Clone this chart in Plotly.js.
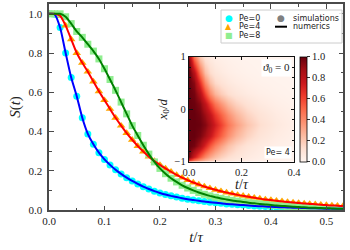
<!DOCTYPE html>
<html><head><meta charset="utf-8">
<script src="https://cdn.plot.ly/plotly-3.0.1.min.js"></script>
<style>html,body{margin:0;padding:0;background:#fff}#chart{width:350px;height:250px}</style>
</head><body><div id="chart"></div>
<script>
// time axis t/tau
const t = [0, 0.01, 0.02, 0.03, 0.04, 0.05, 0.06, 0.07, 0.08, 0.09,
  0.10, 0.11, 0.12, 0.13, 0.14, 0.15, 0.16, 0.17, 0.18, 0.19,
  0.20, 0.21, 0.22, 0.23, 0.24, 0.25, 0.26, 0.27, 0.28, 0.29,
  0.30, 0.31, 0.32, 0.33, 0.34, 0.35, 0.36, 0.37, 0.38, 0.39,
  0.40, 0.41, 0.42, 0.43, 0.44, 0.45, 0.46, 0.47, 0.48, 0.49,
  0.50, 0.51, 0.52, 0.53];
// survival S(t)
const S_pe0 = [1.0, 0.998, 0.93, 0.80, 0.675, 0.58, 0.47, 0.388, 0.335, 0.292,
  0.258, 0.23, 0.205, 0.184, 0.165, 0.148, 0.133, 0.119, 0.107, 0.096,
  0.087, 0.079, 0.072, 0.066, 0.06, 0.055, 0.051, 0.047, 0.043, 0.040,
  0.037, 0.034, 0.031, 0.029, 0.027, 0.025, 0.023, 0.021, 0.019, 0.018,
  0.016, 0.015, 0.014, 0.013, 0.012, 0.011, 0.010, 0.009, 0.009, 0.008,
  0.007, 0.007, 0.006, 0.006];
const S_pe4 = [1.0, 1.0, 0.99, 0.94, 0.87, 0.80, 0.75, 0.705, 0.655, 0.605,
  0.56, 0.515, 0.47, 0.43, 0.392, 0.358, 0.326, 0.298, 0.272, 0.25,
  0.23, 0.212, 0.195, 0.179, 0.165, 0.152, 0.140, 0.130, 0.120, 0.111,
  0.103, 0.096, 0.089, 0.083, 0.077, 0.072, 0.067, 0.063, 0.058, 0.054,
  0.051, 0.047, 0.044, 0.041, 0.038, 0.036, 0.033, 0.031, 0.029, 0.027,
  0.025, 0.023, 0.022, 0.020];
const S_pe8 = [1.0, 1.0, 1.0, 0.985, 0.95, 0.91, 0.88, 0.845, 0.81, 0.77,
  0.72, 0.665, 0.61, 0.55, 0.49, 0.43, 0.38, 0.33, 0.285, 0.245,
  0.212, 0.185, 0.162, 0.143, 0.126, 0.112, 0.10, 0.089, 0.08, 0.072,
  0.065, 0.059, 0.054, 0.049, 0.045, 0.041, 0.037, 0.034, 0.031, 0.028,
  0.025, 0.023, 0.021, 0.019, 0.017, 0.015, 0.014, 0.012, 0.011, 0.010,
  0.009, 0.008, 0.007, 0.007];
const seriesNames = ['Pe=0', 'Pe=4', 'Pe=8'];

// inset: S(t) map for Pe=4, theta0=0
const heatT = [0, 0.02, 0.04, 0.06, 0.08, 0.10, 0.12, 0.15, 0.18, 0.22, 0.27, 0.33, 0.40];
const heatX0 = [-1, -0.9, -0.7, -0.5, -0.3, -0.1, 0.1, 0.3, 0.5, 0.7, 0.9, 1];
const heatS = [
  [0.5, 0.34, 0.25, 0.19, 0.15, 0.12, 0.095, 0.07, 0.052, 0.035, 0.022, 0.014, 0.008],
  [0.97, 0.75, 0.55, 0.41, 0.31, 0.24, 0.18, 0.13, 0.095, 0.064, 0.04, 0.025, 0.014],
  [1.0, 0.97, 0.86, 0.7, 0.55, 0.43, 0.33, 0.23, 0.16, 0.1, 0.062, 0.037, 0.02],
  [1.0, 1.0, 0.96, 0.88, 0.77, 0.64, 0.52, 0.38, 0.27, 0.17, 0.1, 0.057, 0.03],
  [1.0, 1.0, 0.99, 0.94, 0.85, 0.73, 0.61, 0.46, 0.34, 0.22, 0.13, 0.074, 0.037],
  [1.0, 1.0, 0.97, 0.89, 0.78, 0.64, 0.52, 0.38, 0.27, 0.17, 0.105, 0.06, 0.031],
  [1.0, 0.99, 0.93, 0.79, 0.62, 0.47, 0.36, 0.25, 0.17, 0.11, 0.066, 0.038, 0.021],
  [1.0, 0.97, 0.83, 0.6, 0.4, 0.27, 0.19, 0.13, 0.09, 0.06, 0.038, 0.023, 0.013],
  [1.0, 0.93, 0.66, 0.4, 0.24, 0.15, 0.11, 0.075, 0.053, 0.036, 0.023, 0.015, 0.009],
  [1.0, 0.82, 0.47, 0.24, 0.14, 0.09, 0.065, 0.045, 0.032, 0.021, 0.014, 0.009, 0.006],
  [0.96, 0.58, 0.28, 0.14, 0.085, 0.055, 0.042, 0.03, 0.021, 0.015, 0.01, 0.007, 0.005],
  [0.9, 0.46, 0.2, 0.1, 0.06, 0.04, 0.03, 0.02, 0.015, 0.01, 0.007, 0.005, 0.003]
];

const markerColors = ['#00ffff', '#ffa500', '#90ee90'];
const markerSymbols = ['circle', 'triangle-up', 'square'];
const markerSizes = [7, 7.5, 7];
const lineColors = ['#0000ff', '#ff0000', '#008000'];
const allS = [S_pe0, S_pe4, S_pe8];

const traces = [];
allS.forEach((s, i) => {
  traces.push({x: t, y: s, type: 'scatter', mode: 'markers', name: seriesNames[i] + ' simulations',
    marker: {color: markerColors[i], symbol: markerSymbols[i], size: markerSizes[i], line: {width: 0}},
    showlegend: false, hoverinfo: 'skip'});
});
allS.forEach((s, i) => {
  traces.push({x: t, y: s, type: 'scatter', mode: 'lines', name: seriesNames[i] + ' numerics',
    line: {color: lineColors[i], width: 2, shape: 'spline', smoothing: 0.6},
    showlegend: false, hoverinfo: 'skip'});
});

const reds = [[0, '#fff5f0'], [0.125, '#fee0d2'], [0.25, '#fcbba1'], [0.375, '#fc9272'],
  [0.5, '#fb6a4a'], [0.625, '#ef3b2c'], [0.75, '#cb181d'], [0.875, '#a50f15'], [1, '#67000d']];

const serif = "'Liberation Serif', 'Times New Roman', 'DejaVu Serif', serif";
const sans = "'DejaVu Sans', 'Liberation Sans', sans-serif";

traces.push({type: 'heatmap', x: heatT, y: heatX0, z: heatS, xaxis: 'x2', yaxis: 'y2',
  colorscale: reds, zmin: 0, zmax: 1, zsmooth: 'best', hoverinfo: 'skip',
  colorbar: {x: 0.854, xanchor: 'left', xpad: 0, y: 0.2345, yanchor: 'bottom', ypad: 0,
    len: 0.51, lenmode: 'fraction', thickness: 7, outlinewidth: 0.8, outlinecolor: '#000',
    tickvals: [0, 0.2, 0.4, 0.6, 0.8, 1.0], tickformat: '.1f', ticks: 'outside', ticklen: 3,
    tickcolor: '#333', tickfont: {family: serif, size: 10.5, color: '#222'}}});

const axCommon = {ticks: 'inside', mirror: 'allticks', showline: true, showgrid: false, zeroline: false,
  tickwidth: 1};

const P = (px) => (px - 49) / 294;
const Q = (py) => (210 - py) / 206;

const layout = {
  width: 350, height: 250,
  margin: {l: 49, r: 7, t: 4, b: 40},
  paper_bgcolor: '#fff', plot_bgcolor: '#fff',
  font: {family: serif},
  showlegend: false,
  xaxis: Object.assign({}, axCommon, {range: [0, 0.53], dtick: 0.1, tick0: 0, tickformat: '.1f',
    ticklen: 4.5, linecolor: '#4a4a4a', linewidth: 1.6, tickcolor: '#4a4a4a',
    minor: {dtick: 0.05, ticklen: 2.5, ticks: 'inside', tickcolor: '#4a4a4a'},
    tickfont: {family: serif, size: 11, color: '#222'},
    title: {text: '<i>t</i>/<i>τ</i>', font: {family: serif, size: 15, color: '#222'}, standoff: 6}}),
  yaxis: Object.assign({}, axCommon, {range: [0, 1.05], dtick: 0.2, tick0: 0, tickformat: '.1f',
    ticklen: 4.5, linecolor: '#4a4a4a', linewidth: 1.6, tickcolor: '#4a4a4a',
    minor: {dtick: 0.1, ticklen: 2.5, ticks: 'inside', tickcolor: '#4a4a4a'},
    tickfont: {family: serif, size: 11, color: '#222'}, ticklabelstandoff: 3,
    title: {text: '<i>S</i>(<i>t</i>)', font: {family: serif, size: 15, color: '#222'}, standoff: 4}}),
  xaxis2: Object.assign({}, axCommon, {domain: [P(189), P(294)], anchor: 'y2', range: [0, 0.4],
    dtick: 0.2, tick0: 0, tickformat: '.1f', ticklen: 3.5, linecolor: '#111', linewidth: 1.2,
    tickcolor: '#111', minor: {dtick: 0.1, ticklen: 2, ticks: 'inside', tickcolor: '#111'},
    tickfont: {family: serif, size: 10.5, color: '#222'},
    title: {text: '<i>t</i>/<i>τ</i>', font: {family: serif, size: 14, color: '#222'}, standoff: 0}}),
  yaxis2: Object.assign({}, axCommon, {domain: [Q(161.7), Q(56.7)], anchor: 'x2', range: [-1, 1],
    tickvals: [-1, 0, 1], ticklen: 3.5, linecolor: '#111', linewidth: 1.2, tickcolor: '#111',
    minor: {dtick: 0.2, tick0: 0, ticklen: 2, ticks: 'inside', tickcolor: '#111'},
    tickfont: {family: serif, size: 10.5, color: '#222'},
    title: {text: '<i>x</i><sub>0</sub>/<i>d</i>', font: {family: serif, size: 13, color: '#222'}, standoff: 4}}),
  shapes: [
    {type: 'rect', xref: 'paper', yref: 'paper', x0: P(221), x1: P(342), y0: Q(43), y1: Q(10),
      line: {color: '#cccccc', width: 1}, fillcolor: 'rgba(255,255,255,0.85)', layer: 'above'},
    {type: 'line', xref: 'paper', yref: 'paper', x0: P(275), x1: P(287), y0: Q(26.7), y1: Q(26.7),
      line: {color: '#000', width: 2}, layer: 'above'}
  ],
  annotations: [
    {xref: 'paper', yref: 'paper', x: P(228.5), y: Q(18.3), text: '●', showarrow: false,
      font: {family: sans, size: 9, color: markerColors[0]}, xanchor: 'center', yanchor: 'middle'},
    {xref: 'paper', yref: 'paper', x: P(228.5), y: Q(26.7), text: '▲', showarrow: false,
      font: {family: sans, size: 8, color: markerColors[1]}, xanchor: 'center', yanchor: 'middle'},
    {xref: 'paper', yref: 'paper', x: P(228.5), y: Q(35.5), text: '■', showarrow: false,
      font: {family: sans, size: 8, color: markerColors[2]}, xanchor: 'center', yanchor: 'middle'},
    {xref: 'paper', yref: 'paper', x: P(237), y: Q(18.3), text: seriesNames[0], showarrow: false,
      font: {family: sans, size: 8, color: '#222'}, xanchor: 'left', yanchor: 'middle'},
    {xref: 'paper', yref: 'paper', x: P(237), y: Q(26.7), text: seriesNames[1], showarrow: false,
      font: {family: sans, size: 8, color: '#222'}, xanchor: 'left', yanchor: 'middle'},
    {xref: 'paper', yref: 'paper', x: P(237), y: Q(35.5), text: seriesNames[2], showarrow: false,
      font: {family: sans, size: 8, color: '#222'}, xanchor: 'left', yanchor: 'middle'},
    {xref: 'paper', yref: 'paper', x: P(280.5), y: Q(18.3), text: '●', showarrow: false,
      font: {family: sans, size: 9, color: '#808080'}, xanchor: 'center', yanchor: 'middle'},
    {xref: 'paper', yref: 'paper', x: P(291), y: Q(18.3), text: 'simulations', showarrow: false,
      font: {family: sans, size: 8, color: '#222'}, xanchor: 'left', yanchor: 'middle'},
    {xref: 'paper', yref: 'paper', x: P(291), y: Q(26.7), text: 'numerics', showarrow: false,
      font: {family: sans, size: 8, color: '#222'}, xanchor: 'left', yanchor: 'middle'},
    {xref: 'x2 domain', yref: 'y2 domain', x: 0.985, y: 0.975, text: '<i>ϑ</i><sub>0</sub> = 0',
      showarrow: false, xanchor: 'right', yanchor: 'top', bgcolor: '#fff', borderpad: 1,
      font: {family: serif, size: 11, color: '#222'}},
    {xref: 'x2 domain', yref: 'y2 domain', x: 0.985, y: 0.03, text: 'Pe= 4',
      showarrow: false, xanchor: 'right', yanchor: 'bottom', bgcolor: '#fff', borderpad: 1,
      font: {family: sans, size: 8, color: '#222'}}
  ]
};

Plotly.newPlot('chart', traces, layout, {staticPlot: true, displayModeBar: false});
</script>
</body></html>
